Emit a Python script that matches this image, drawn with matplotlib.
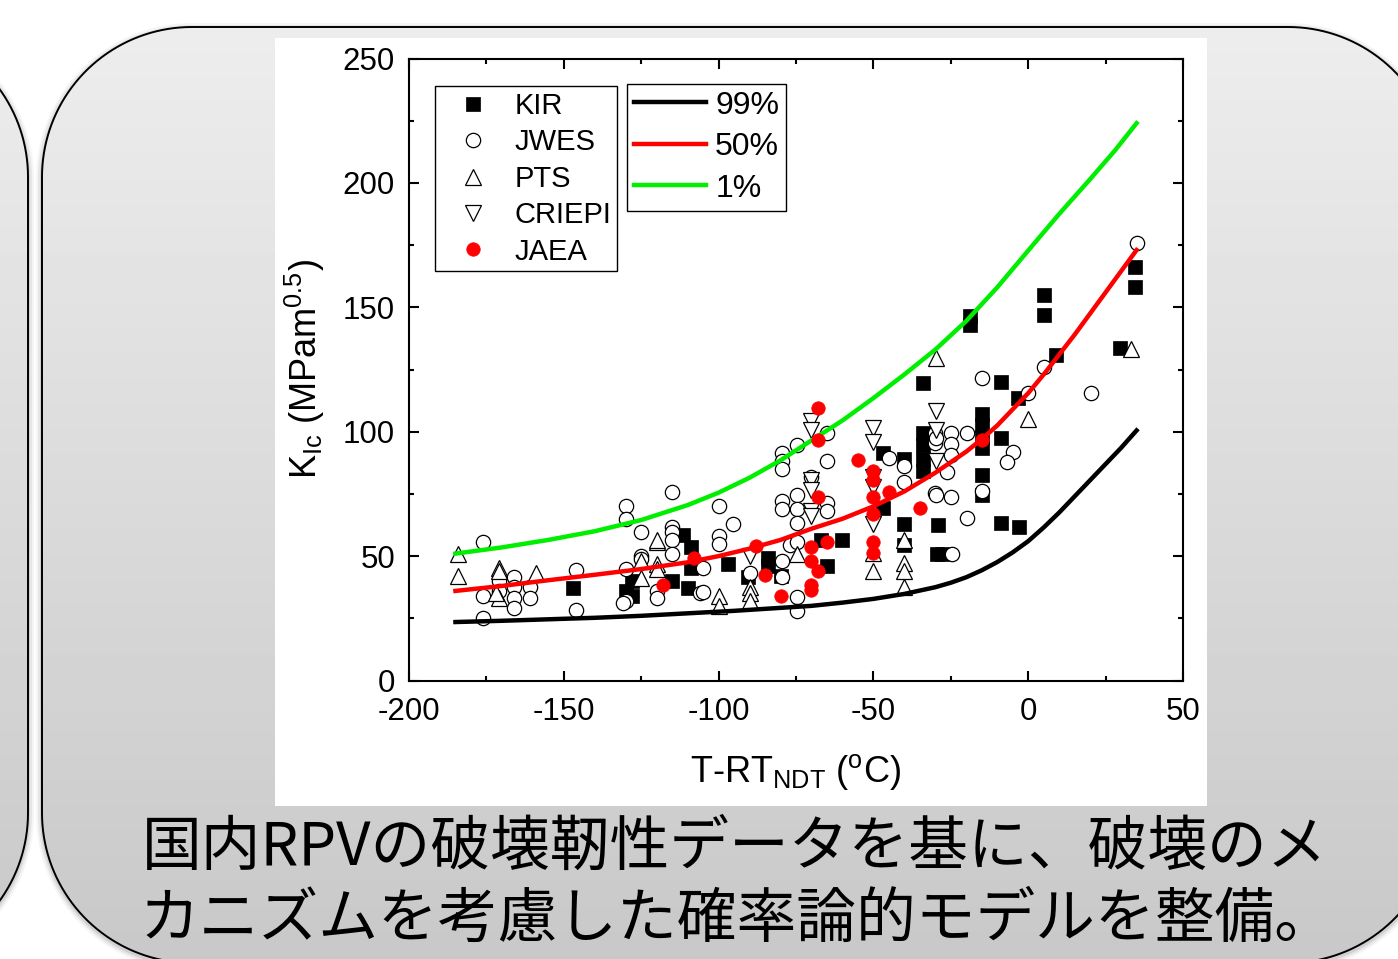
import matplotlib
matplotlib.use("Agg")
import matplotlib.pyplot as plt
import numpy as np
from matplotlib.patches import Polygon, Rectangle
from matplotlib.ticker import MultipleLocator

plt.rcParams['font.family'] = ['Liberation Sans', 'DejaVu Sans']
plt.rcParams['axes.unicode_minus'] = False
plt.rcParams['mathtext.fontset'] = 'custom'
plt.rcParams['mathtext.rm'] = 'Liberation Sans'
plt.rcParams['mathtext.it'] = 'Liberation Sans:italic'
plt.rcParams['mathtext.bf'] = 'Liberation Sans:bold'

# ---- データ ----
kir_t = [-147, -130, -128, -128, -111.5, -109, -109, -110, -115, -97, -90.5, -84, -84, -80,
         -67, -65, -60, -47, -47, -40, -40, -40, -34, -34, -34, -34, -34, -29.5, -29, -28,
         -18.8, -18.8, -14.9, -14.9, -14.9, -14.9, -14.9, -14.9, -8.8, -8.8, -8.8, -3.3, -3,
         5, 5, 9, 29.6, 34.5, 34.5]
kir_k = [37, 36, 40, 34, 58.3, 53.5, 45.4, 37, 40, 47, 41.4, 49.4, 46.2, 42.2,
         56.3, 46.2, 56.3, 91.6, 69.5, 89.2, 63.1, 54.3, 99.3, 94.5, 89.2, 84.4, 119.4, 51, 62.3, 51,
         146.7, 142.7, 107.3, 102.5, 97.7, 93.6, 82.4, 74.4, 119.8, 97.3, 63.5, 113.7, 61.5,
         155, 147, 131, 133.8, 166, 158]

jwes_t = [-176, -176, -176, -171, -171, -166, -166, -166, -166, -161, -161, -146, -146,
          -130, -130, -125, -115, -115, -115, -115, -115, -125, -125, -130, -130, -131, -120, -120,
          -106, -100, -95.3, -100, -100, -105, -105, -79.5, -79.5, -79.5, -74.7, -65, -65, -70,
          -79.5, -79.5, -74.7, -74.7, -74.7, -65, -65, -77, -74.7, -79.5, -79.5, -74.7, -74.7, -90,
          -45, -40, -40, -30, -30, -30, -25, -19.8, -25, -25, -26.2, -29.8, -14.9, 0, 20.3, 5.1,
          -4.9, -6.8, -14.9, -29.8, -25, -19.8, -24.6, 35.1]
jwes_k = [55.5, 34, 25, 40, 36, 41.4, 37.4, 33, 29, 37.4, 33, 44.6, 28.5,
          70, 65, 59.5, 75.6, 61.5, 59.5, 56.3, 51, 50, 49, 45, 32, 31, 36, 33,
          35, 70, 63, 58, 55, 35.4, 45.4, 91.6, 88.4, 85.2, 94.5, 99.3, 88.4, 81.6,
          72.3, 69.1, 74.4, 69.1, 63.5, 71.5, 68.3, 54.3, 55.5, 48.2, 41.4, 33.4, 28.1, 43.4,
          89.6, 86.4, 79.6, 99.3, 95.3, 75.2, 99.3, 99.3, 94.9, 90.8, 84, 97.3, 121.4, 115.4, 115.4, 126.2,
          92, 88, 76, 74.4, 73.6, 65.5, 51, 176]

pts_t = [-184.2, -184.2, -171, -171, -171, -172, -159, -120, -125, -125, -120, -120, -120,
         -100, -100, -90, -90, -90, -74.7, -50, -50, -40, -40, -40, -40, -29.8, 0, 33.2]
pts_k = [51, 42.2, 45.4, 44, 33, 35, 43.4, 55.5, 48, 41, 47, 45, 56.3,
         34, 30, 37.4, 35, 32, 51, 51.4, 44.2, 56.3, 47.4, 44.2, 37.4, 129.8, 105, 133.4]

criepi_t = [-70, -70, -70, -70, -70, -70, -90, -50, -50, -50, -50, -50, -29.8, -29.8, -29.8]
criepi_k = [104.5, 100.5, 80.4, 76.4, 68.3, 66.3, 50, 101.3, 95.7, 81.6, 77.6, 63.1, 108.5, 100.5, 88.4]

jaea_t = [-118, -108, -88, -85, -80, -68, -68, -68, -70, -70, -68, -70, -70, -65,
          -55, -50, -50, -50, -50, -45, -35, -50, -50, -14.9]
jaea_k = [38.2, 49.4, 53.9, 42.6, 34, 109.7, 96.5, 73.6, 53.5, 48.2, 44.2, 38.2, 36.2, 55.5,
          88.8, 84.4, 80.4, 73.6, 67.1, 75.6, 69.5, 55.5, 51.4, 96.5]

# 確率曲線 (図から読み取った点)
p99_t = [-185, -170, -155, -140, -125, -110, -95, -80, -70, -60, -50, -40, -30, -25, -20, -15,
         -10, -5, 0, 5, 10, 15, 20, 25, 30, 35]
p99_k = [23.5, 24.0, 24.6, 25.2, 26.0, 27.0, 28.0, 29.2, 30.0, 31.3, 32.8, 34.8, 37.5, 39.3, 41.5, 44.3,
         47.6, 51.5, 56, 61.5, 67.5, 74, 80.5, 87, 93.5, 100.5]
p50_t = [-185, -170, -155, -140, -125, -110, -100, -90, -80, -70, -60, -50, -40, -30, -20, -15,
         -10, -5, 0, 5, 10, 15, 20, 25, 30, 35]
p50_k = [36, 38, 40.3, 42.5, 44.8, 47.5, 50, 53, 56.5, 61, 65, 70, 76, 83.5, 92, 97,
         102.5, 109, 115.5, 123, 131, 139, 147.5, 156, 164.5, 173]
p01_t = [-185, -170, -155, -140, -125, -110, -100, -90, -80, -70, -60, -50, -40, -30, -20,
         -10, 0, 10, 20, 28, 35]
p01_k = [51, 53.5, 56.5, 60, 64.5, 70.5, 75.5, 81.5, 88.5, 96.5, 104.5, 113.5, 123, 133, 144.5,
         158, 172.8, 187.5, 201.5, 213, 224]

W, H = 1398, 959
fig = plt.figure(figsize=(W / 100, H / 100), dpi=100)
fig.patch.set_facecolor('white')


def rrect(x0, y0, x1, y1, r, n=40):
    # 角丸四角形の頂点
    pts = []
    for cx, cy, a0 in [(x1 - r, y0 + r, -90), (x1 - r, y1 - r, 0), (x0 + r, y1 - r, 90), (x0 + r, y0 + r, 180)]:
        t = np.radians(np.linspace(a0, a0 + 90, n))
        pts += list(zip(cx + r * np.cos(t), cy + r * np.sin(t)))
    return pts


# ---- スライド背景 ----
bg = fig.add_axes([0, 0, 1, 1])
bg.axis('off')

grad = np.linspace(237, 200, 256).reshape(-1, 1) / 255.0
for (x0, y0, x1, y1) in [(-300, 27, 28, 963), (42, 27, 1438, 963)]:
    for d, a in [(6, 0.04), (4, 0.06), (2, 0.09)]:
        bg.add_patch(Polygon(rrect(x0 - d, y0 - d + 2, x1 + d, y1 + d + 2, 150 + d),
                             closed=True, fc='black', ec='none', alpha=a, zorder=0))
    box = Polygon(rrect(x0, y0, x1, y1, 150), closed=True, fc='none', ec='black', lw=1.4, zorder=2)
    bg.add_patch(box)
    im = bg.imshow(grad, cmap='gray', vmin=0, vmax=1, extent=(x0, x1, y1, y0),
                   aspect='auto', zorder=1, interpolation='bilinear')
    im.set_clip_path(box)
bg.set_xlim(0, W)
bg.set_ylim(H, 0)

bg.add_patch(Rectangle((275, 38), 932, 768, fc='white', ec='none', zorder=3))

bg.text(142, 848, "国内RPVの破壊靭性データを基に、破壊のメ", fontsize=43,
        family=['Noto Sans CJK JP', 'DejaVu Sans'], ha='left', va='center', zorder=4)
bg.text(140, 920, "カニズムを考慮した確率論的モデルを整備。", fontsize=43,
        family=['Noto Sans CJK JP', 'DejaVu Sans'], ha='left', va='center', zorder=4)

# ---- グラフ ----
ax = fig.add_axes([409 / W, (H - 680.5) / H, 774 / W, 622 / H])
ax.set_facecolor('white')

h_kir, = ax.plot(kir_t, kir_k, 's', ms=9.6, mfc='black', mec='black', mew=0.5, ls='none', zorder=2, label='KIR')
h_jwes, = ax.plot(jwes_t, jwes_k, 'o', ms=10.3, mfc='white', mec='black', mew=0.9, ls='none', zorder=2.1, label='JWES')
h_pts, = ax.plot(pts_t, pts_k, '^', ms=11.5, mfc='white', mec='black', mew=0.9, ls='none', zorder=2.2, label='PTS')
h_cri, = ax.plot(criepi_t, criepi_k, 'v', ms=11.5, mfc='white', mec='black', mew=0.9, ls='none', zorder=2.3, label='CRIEPI')

h99, = ax.plot(p99_t, p99_k, color='black', lw=3.2, zorder=3, label='99%', solid_joinstyle='round')
h50, = ax.plot(p50_t, p50_k, color='#ff0000', lw=3.2, zorder=3, label='50%', solid_joinstyle='round')
h01, = ax.plot(p01_t, p01_k, color='#00ee00', lw=3.2, zorder=3, label='1%', solid_joinstyle='round')

h_jaea, = ax.plot(jaea_t, jaea_k, 'o', ms=9.7, mfc='#ff0000', mec='#ff0000', mew=0.5, ls='none', zorder=3.5, label='JAEA')

ax.set_xlim(-200, 50)
ax.set_ylim(0, 250)
ax.xaxis.set_major_locator(MultipleLocator(50))
ax.xaxis.set_minor_locator(MultipleLocator(25))
ax.yaxis.set_major_locator(MultipleLocator(50))
ax.yaxis.set_minor_locator(MultipleLocator(25))
ax.tick_params(which='both', direction='in', top=True, right=True, width=1.5, labelsize=22.5)
ax.tick_params(which='major', length=7.2)
ax.tick_params(which='minor', length=3.6)
ax.tick_params(axis='x', pad=12)
ax.tick_params(axis='y', pad=10)
for s in ax.spines.values():
    s.set_linewidth(1.5)

ax.text(0.5, -0.147, r'T-RT$_{\rm NDT}$ ($^{\rm o}$C)', transform=ax.transAxes,
        ha='center', va='center', fontsize=26)
ax.text(-0.134, 0.5, r'K$_{\rm Ic}$ (MPam$^{\rm 0.5}$)', transform=ax.transAxes,
        ha='center', va='center', fontsize=26, rotation=90)

leg1 = ax.legend(handles=[h_kir, h_jwes, h_pts, h_cri, h_jaea], loc='upper left',
                 bbox_to_anchor=(0.0336, 0.9558), borderaxespad=0, fontsize=21,
                 fancybox=False, edgecolor='black', framealpha=1, markerscale=1.0,
                 handlelength=2.23, handletextpad=0.29, labelspacing=0.29, borderpad=0.2)
leg1.get_frame().set_linewidth(1.0)
ax.add_artist(leg1)
leg2 = ax.legend(handles=[h99, h50, h01], loc='upper left',
                 bbox_to_anchor=(0.2817, 0.9598), borderaxespad=0, fontsize=23,
                 fancybox=False, edgecolor='black', framealpha=1,
                 handlelength=2.26, handletextpad=0.28, labelspacing=0.36, borderpad=0.22)
leg2.get_frame().set_linewidth(1.0)

fig.savefig('out.png', dpi=100)
